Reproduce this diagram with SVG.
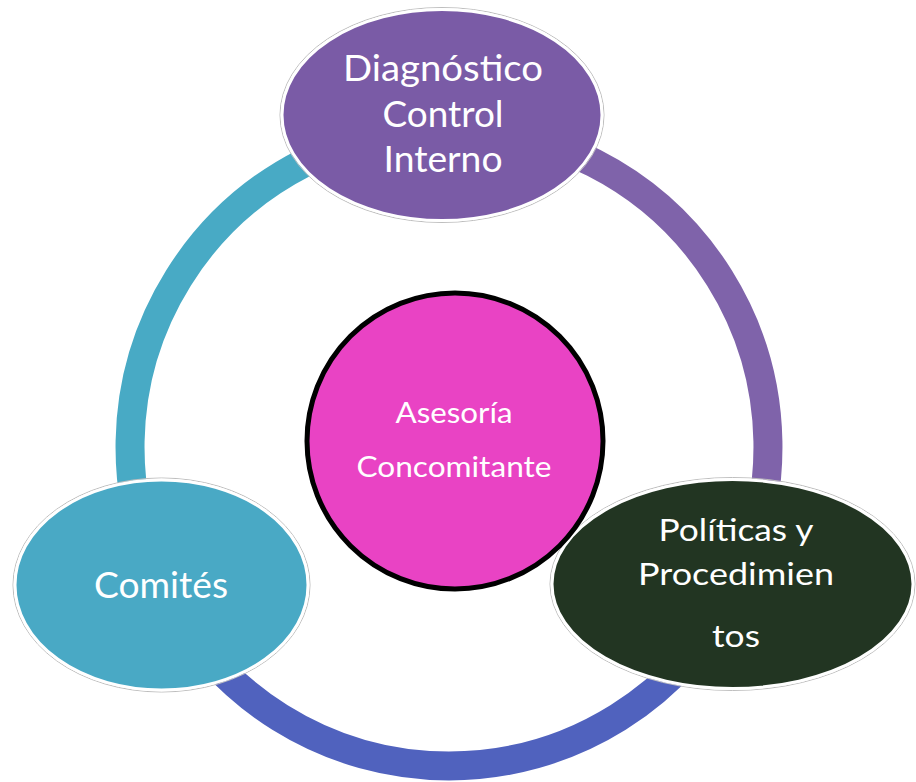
<svg xmlns="http://www.w3.org/2000/svg" width="916" height="782" viewBox="0 0 916 782">
  <defs>
    <style>
      .ring { fill: none; stroke-width: 29; stroke-linecap: butt; }
      .halo { fill: none; stroke: #bdbdbd; stroke-width: 1; }
      .node { stroke: #ffffff; stroke-width: 3; }
      .label { font-family: Lato, "Open Sans", "Liberation Sans", sans-serif; fill: #ffffff; text-anchor: middle; }
    </style>
  </defs>

  <rect width="916" height="782" fill="#ffffff"/>

  <!-- cycle ring, drawn as three coloured arcs around (449,447) -->
  <g id="connectors">
    <path class="ring" stroke="#7F63AA" d="M449,128 A319,319 0 0 1 735.7,586.8"/>
    <path class="ring" stroke="#5062BE" d="M735.7,586.8 A319,319 0 0 1 162.3,586.8"/>
    <path class="ring" stroke="#48AAC5" d="M162.3,586.8 A319,319 0 0 1 449,128"/>
  </g>

  <g id="node-diagnostico">
    <ellipse class="halo" cx="442" cy="115" rx="162" ry="107.5"/>
    <ellipse class="node" cx="442" cy="115" rx="160" ry="105.5" fill="#7A5BA6"/>
    <text class="label" font-size="36" x="443" y="81" textLength="200" lengthAdjust="spacingAndGlyphs">Diagnóstico</text>
    <text class="label" font-size="36" x="443" y="127" textLength="121" lengthAdjust="spacingAndGlyphs">Control</text>
    <text class="label" font-size="36" x="443" y="172" textLength="119" lengthAdjust="spacingAndGlyphs">Interno</text>
  </g>

  <g id="node-politicas">
    <ellipse class="halo" cx="732.5" cy="584" rx="182.5" ry="106.5"/>
    <ellipse class="node" cx="732.5" cy="584" rx="180.5" ry="104.5" fill="#223522"/>
    <text class="label" font-size="30" x="736" y="541" textLength="155" lengthAdjust="spacingAndGlyphs">Políticas y</text>
    <text class="label" font-size="30" x="736" y="585" textLength="196" lengthAdjust="spacingAndGlyphs">Procedimien</text>
    <text class="label" font-size="30" x="736" y="647" textLength="48" lengthAdjust="spacingAndGlyphs">tos</text>
  </g>

  <g id="node-comites">
    <ellipse class="halo" cx="161.5" cy="585" rx="148.5" ry="107"/>
    <ellipse class="node" cx="161.5" cy="585" rx="146.5" ry="105" fill="#49A9C5"/>
    <text class="label" font-size="36" x="161" y="598" textLength="134" lengthAdjust="spacingAndGlyphs">Comités</text>
  </g>

  <g id="node-asesoria">
    <circle cx="455" cy="441" r="148" fill="#E943C4" stroke="#000000" stroke-width="5"/>
    <text class="label" font-size="28" x="454" y="423" textLength="117" lengthAdjust="spacingAndGlyphs">Asesoría</text>
    <text class="label" font-size="28" x="454" y="477" textLength="195" lengthAdjust="spacingAndGlyphs">Concomitante</text>
  </g>
</svg>
